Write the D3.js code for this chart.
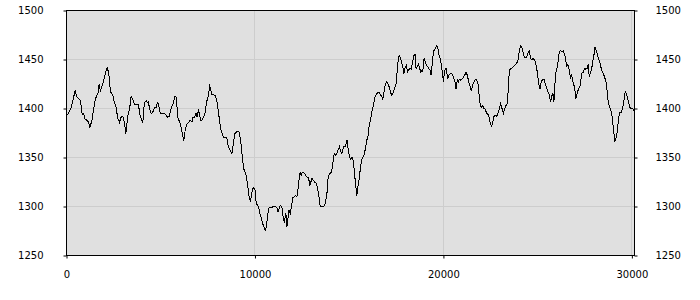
<!DOCTYPE html>
<html>
<head>
<meta charset="utf-8">
<script src="https://cdn.jsdelivr.net/npm/d3@7"></script>
<style>
  body { margin: 0; background: #fff; }
  text { font-family: "DejaVu Sans", sans-serif; }
</style>
</head>
<body>
<div id="wrapper"></div>
<script>
// x positions (steps) and values
const xValues = [
  0, 106, 247, 459, 548, 742, 830, 901, 989, 1077, 1166, 1236, 1343, 1484, 1590, 1696, 1731, 1802, 1925, 2049,
  2155, 2243, 2332, 2456, 2544, 2632, 2720, 2809, 2897, 2986, 3074, 3145, 3216, 3286, 3339, 3427, 3551, 3604, 3745, 3816,
  3904, 3957, 4045, 4134, 4222, 4310, 4346, 4399, 4487, 4575, 4664, 4752, 4840, 4982, 5105, 5194, 5282, 5371, 5459, 5547,
  5653, 5759, 5830, 5901, 6007, 6113, 6219, 6307, 6397, 6482, 6572, 6662, 6715, 6784, 6874, 6927, 7012, 7065, 7139, 7245,
  7367, 7420, 7489, 7542, 7595, 7632, 7669, 7722, 7807, 7897, 7987, 8072, 8125, 8199, 8268, 8337, 8464, 8517, 8586, 8655,
  8729, 8782, 8867, 8920, 9010, 9079, 9132, 9185, 9259, 9328, 9397, 9487, 9540, 9609, 9683, 9752, 9805, 9874, 9927, 10001,
  10054, 10107, 10192, 10245, 10319, 10388, 10457, 10547, 10600, 10669, 10722, 10812, 10902, 10955, 11024, 11093, 11167, 11236, 11305, 11379,
  11432, 11517, 11570, 11623, 11660, 11697, 11750, 11803, 11872, 11962, 12015, 12084, 12153, 12227, 12280, 12365, 12402, 12455, 12526, 12632,
  12755, 12844, 12914, 12967, 13021, 13091, 13162, 13250, 13339, 13409, 13462, 13551, 13639, 13727, 13816, 13869, 13939, 14045, 14116, 14169,
  14222, 14293, 14399, 14487, 14540, 14611, 14699, 14788, 14841, 14894, 14929, 15017, 15088, 15141, 15176, 15229, 15282, 15353, 15406, 15459,
  15530, 15600, 15671, 15759, 15812, 15883, 15936, 15989, 16060, 16130, 16201, 16254, 16325, 16378, 16431, 16502, 16590, 16661, 16731, 16784,
  16837, 16908, 16979, 17049, 17120, 17191, 17261, 17314, 17403, 17491, 17544, 17579, 17650, 17721, 17791, 17862, 17897, 17968, 18039, 18092,
  18145, 18215, 18286, 18357, 18428, 18498, 18550, 18621, 18674, 18727, 18797, 18850, 18903, 18974, 19027, 19080, 19151, 19221, 19292, 19345,
  19398, 19469, 19557, 19646, 19699, 19752, 19822, 19893, 19946, 19999, 20052, 20105, 20140, 20176, 20229, 20299, 20352, 20423, 20494, 20564,
  20617, 20670, 20741, 20794, 20847, 20918, 20989, 21059, 21130, 21201, 21271, 21342, 21413, 21483, 21554, 21625, 21695, 21766, 21837, 21890,
  21943, 22013, 22084, 22155, 22225, 22296, 22367, 22437, 22490, 22561, 22614, 22685, 22756, 22826, 22897, 22968, 23038, 23109, 23180, 23250,
  23321, 23392, 23427, 23462, 23533, 23604, 23674, 23745, 23816, 23886, 23957, 24028, 24098, 24169, 24240, 24311, 24415, 24504, 24557, 24627,
  24698, 24769, 24857, 24946, 24999, 25069, 25122, 25193, 25264, 25334, 25405, 25476, 25546, 25617, 25688, 25758, 25811, 25864, 25917, 25970,
  26041, 26094, 26147, 26218, 26288, 26359, 26412, 26483, 26536, 26606, 26677, 26748, 26801, 26854, 26925, 26995, 27031, 27101, 27172, 27243,
  27296, 27349, 27419, 27490, 27561, 27631, 27684, 27737, 27808, 27879, 27932, 27985, 28038, 28091, 28161, 28232, 28303, 28373, 28444, 28515,
  28585, 28656, 28709, 28762, 28833, 28904, 28974, 29010, 29063, 29098, 29151, 29222, 29292, 29363, 29434, 29505, 29575, 29646, 29717, 29770,
  29823, 29893, 29964, 30035, 30105
];
const yValues = [
  1393, 1395, 1401, 1418, 1412, 1408, 1394, 1395, 1389, 1388, 1386, 1381, 1387, 1405, 1413, 1417, 1425, 1418, 1425, 1435,
  1442, 1436, 1417, 1414, 1406, 1401, 1390, 1386, 1391, 1392, 1386, 1374, 1386, 1397, 1398, 1412, 1408, 1404, 1404, 1404,
  1393, 1390, 1385, 1406, 1408, 1406, 1408, 1400, 1395, 1396, 1401, 1401, 1407, 1395, 1395, 1395, 1393, 1391, 1392, 1400,
  1405, 1413, 1411, 1391, 1386, 1378, 1367, 1379, 1384, 1386, 1388, 1386, 1391, 1391, 1395, 1391, 1399, 1393, 1387, 1390,
  1396, 1405, 1411, 1413, 1425, 1420, 1418, 1414, 1414, 1413, 1407, 1395, 1387, 1378, 1374, 1370, 1371, 1369, 1361, 1358,
  1356, 1354, 1366, 1374, 1376, 1377, 1377, 1374, 1364, 1351, 1339, 1334, 1331, 1322, 1311, 1306, 1310, 1318, 1319, 1317,
  1306, 1302, 1300, 1294, 1289, 1284, 1280, 1276, 1279, 1289, 1298, 1299, 1299, 1300, 1300, 1300, 1299, 1294, 1300, 1301,
  1299, 1286, 1284, 1293, 1291, 1279, 1288, 1296, 1293, 1303, 1309, 1310, 1311, 1310, 1317, 1331, 1335, 1332, 1335, 1334,
  1330, 1329, 1322, 1325, 1329, 1327, 1325, 1324, 1317, 1308, 1300, 1300, 1300, 1303, 1312, 1327, 1333, 1335, 1340, 1351,
  1354, 1352, 1357, 1361, 1357, 1354, 1361, 1361, 1364, 1368, 1361, 1351, 1348, 1350, 1350, 1345, 1334, 1320, 1311, 1320,
  1328, 1340, 1348, 1351, 1354, 1362, 1368, 1370, 1383, 1388, 1396, 1401, 1407, 1412, 1414, 1416, 1416, 1414, 1412, 1409,
  1415, 1424, 1427, 1426, 1422, 1417, 1413, 1415, 1420, 1425, 1437, 1446, 1454, 1452, 1446, 1441, 1435, 1442, 1444, 1437,
  1439, 1441, 1440, 1446, 1454, 1455, 1441, 1443, 1445, 1442, 1437, 1439, 1438, 1451, 1448, 1445, 1443, 1441, 1439, 1434,
  1444, 1458, 1461, 1464, 1463, 1456, 1451, 1444, 1437, 1427, 1437, 1441, 1441, 1438, 1430, 1434, 1435, 1436, 1434, 1430,
  1427, 1420, 1430, 1427, 1430, 1429, 1430, 1432, 1434, 1437, 1434, 1427, 1423, 1418, 1424, 1427, 1430, 1429, 1425, 1415,
  1405, 1401, 1403, 1400, 1399, 1395, 1394, 1390, 1385, 1382, 1386, 1392, 1393, 1392, 1395, 1400, 1405, 1400, 1395, 1400,
  1403, 1405, 1415, 1430, 1440, 1441, 1442, 1443, 1445, 1446, 1449, 1459, 1464, 1462, 1456, 1452, 1452, 1458, 1459, 1451,
  1450, 1451, 1449, 1442, 1434, 1424, 1420, 1427, 1430, 1430, 1425, 1421, 1417, 1414, 1407, 1413, 1415, 1407, 1425, 1437,
  1442, 1449, 1458, 1459, 1458, 1459, 1456, 1451, 1443, 1445, 1439, 1430, 1435, 1428, 1424, 1417, 1410, 1416, 1420, 1422,
  1429, 1436, 1437, 1441, 1440, 1441, 1445, 1433, 1436, 1442, 1449, 1454, 1463, 1460, 1456, 1451, 1447, 1441, 1437, 1434,
  1430, 1425, 1413, 1405, 1401, 1397, 1390, 1381, 1373, 1366, 1369, 1376, 1390, 1396, 1396, 1400, 1407, 1417, 1415, 1410,
  1407, 1401, 1400, 1400, 1398
];
const xTicks = [0, 10000, 20000, 30000];
const yTicks = [1250, 1300, 1350, 1400, 1450, 1500];

async function drawLine() {
  const dataset = xValues.map((x, i) => ({ x: x, y: yValues[i] }));
  const xAccessor = d => d.x;
  const yAccessor = d => d.y;

  // chart dimensions
  let dimensions = {
    width: 700,
    height: 300,
    margin: { top: 10.5, right: 65.5, bottom: 44.5, left: 66.5 },
  };
  dimensions.boundWidth = dimensions.width - dimensions.margin.left - dimensions.margin.right;
  dimensions.boundHeight = dimensions.height - dimensions.margin.top - dimensions.margin.bottom;

  const wrapper = d3.select('#wrapper')
    .append('svg')
    .attr('width', dimensions.width)
    .attr('height', dimensions.height);
  const bounds = wrapper.append('g')
    .attr('transform', `translate(${dimensions.margin.left}, ${dimensions.margin.top})`);

  // scales
  const xScale = d3.scaleLinear()
    .domain([0, 30140])
    .range([0, dimensions.boundWidth]);
  const yScale = d3.scaleLinear()
    .domain([1250, 1500])
    .range([dimensions.boundHeight, 0]);

  // plot background
  bounds.append('rect')
    .attr('width', dimensions.boundWidth)
    .attr('height', dimensions.boundHeight)
    .attr('fill', '#e0e0e0');

  // grid
  bounds.append('g')
    .selectAll('line')
    .data(yTicks)
    .join('line')
    .attr('x1', 0)
    .attr('x2', dimensions.boundWidth)
    .attr('y1', d => Math.round(yScale(d)))
    .attr('y2', d => Math.round(yScale(d)))
    .attr('stroke', '#cdcdcd');
  bounds.append('g')
    .selectAll('line')
    .data(xTicks)
    .join('line')
    .attr('x1', d => Math.round(xScale(d)))
    .attr('x2', d => Math.round(xScale(d)))
    .attr('y1', 0)
    .attr('y2', dimensions.boundHeight)
    .attr('stroke', '#cdcdcd');

  // data line (aliased, like the original)
  const lineGenerator = d3.line()
    .x(d => xScale(xAccessor(d)))
    .y(d => yScale(yAccessor(d)));
  bounds.append('path')
    .attr('d', lineGenerator(dataset))
    .attr('fill', 'none')
    .attr('stroke', '#000')
    .attr('stroke-width', 1)
    .attr('shape-rendering', 'crispEdges');

  // frame
  bounds.append('rect')
    .attr('width', dimensions.boundWidth)
    .attr('height', dimensions.boundHeight)
    .attr('fill', 'none')
    .attr('stroke', '#000');

  // axes
  const styleAxis = g => {
    g.select('.domain').remove();
    g.selectAll('line').attr('stroke', '#000');
    g.selectAll('text')
      .attr('fill', '#000')
      .style('font-size', '10px')
      .style('font-family', '"DejaVu Sans", sans-serif');
  };
  const xAxis = bounds.append('g')
    .attr('transform', `translate(0, ${dimensions.boundHeight})`)
    .call(d3.axisBottom(xScale).tickValues(xTicks).tickSize(3).tickPadding(12).tickFormat(d3.format('d')))
    .call(styleAxis);
  const yAxisLeft = bounds.append('g')
    .call(d3.axisLeft(yScale).tickValues(yTicks).tickSize(3).tickPadding(20).tickFormat(d3.format('d')))
    .call(styleAxis);
  const yAxisRight = bounds.append('g')
    .attr('transform', `translate(${dimensions.boundWidth}, 0)`)
    .call(d3.axisRight(yScale).tickValues(yTicks).tickSize(3).tickPadding(18).tickFormat(d3.format('d')))
    .call(styleAxis);
}
drawLine()
</script>
</body>
</html>
